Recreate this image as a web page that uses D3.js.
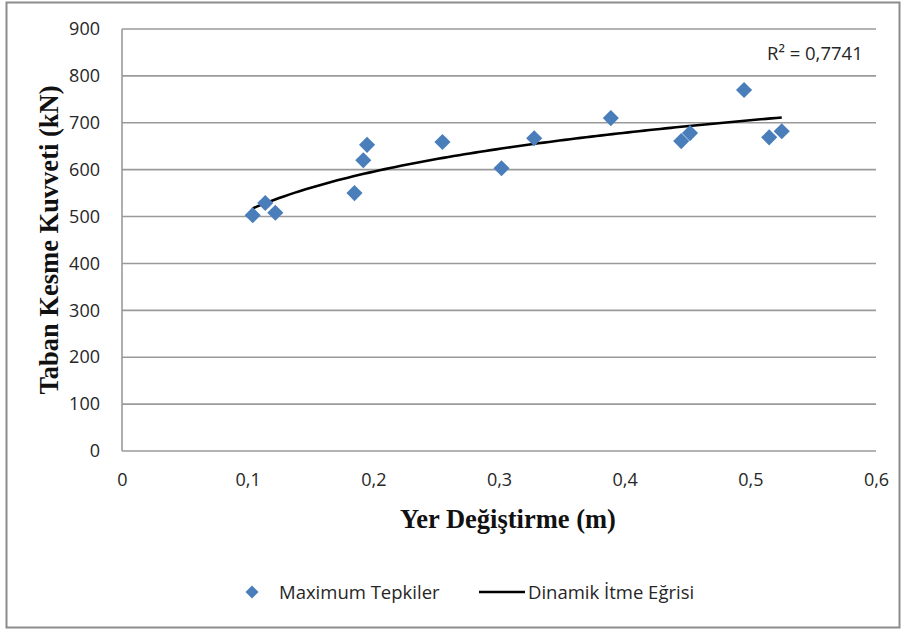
<!DOCTYPE html>
<html>
<head>
<meta charset="utf-8">
<script src="https://cdn.jsdelivr.net/npm/d3@7"></script>
<style>
  html, body { margin: 0; padding: 0; background: #fff; }
  svg { display: block; }
</style>
</head>
<body>
<svg id="chart" width="902" height="632"></svg>
<script>
// Displacement (m) and base shear (kN) of the maximum responses
const displacement = [0.104, 0.114, 0.122, 0.185, 0.192, 0.195, 0.255, 0.302, 0.328, 0.389, 0.445, 0.452, 0.495, 0.515, 0.525];
const baseShear    = [503, 529, 508, 550, 620, 653, 659, 603, 667, 710, 661, 678, 770, 669, 682];

const xTicks = [0, 0.1, 0.2, 0.3, 0.4, 0.5, 0.6];
const yTicks = [0, 100, 200, 300, 400, 500, 600, 700, 800, 900];

const seriesNames = ["Maximum Tepkiler", "Dinamik İtme Eğrisi"];
const r2Label = "R² = 0,7741";
const xTitle = "Yer Değiştirme (m)";
const yTitle = "Taban Kesme Kuvveti (kN)";

const svg = d3.select("#chart");
const plot = { left: 122, right: 876, top: 29, bottom: 451 };

const blue = "#4A7EBB";
const gridColor = "#9a9a9a";
const textColor = "#262626";
const tickFont = "'Open Sans', 'Noto Sans', sans-serif";
const titleFont = "'Liberation Serif', 'Times New Roman', serif";

// chart frame
svg.append("rect")
  .attr("x", 6.5).attr("y", 2.5)
  .attr("width", 893).attr("height", 625)
  .attr("fill", "#fff")
  .attr("stroke", "#8c8c8c")
  .attr("stroke-width", 2);

const x = d3.scaleLinear().domain([0, 0.6]).range([plot.left, plot.right]);
const y = d3.scaleLinear().domain([0, 900]).range([plot.bottom, plot.top]);

const fmt = d => String(d).replace(".", ",");

// horizontal gridlines
svg.append("g")
  .selectAll("line")
  .data(yTicks)
  .join("line")
  .attr("x1", plot.left).attr("x2", plot.right)
  .attr("y1", d => y(d)).attr("y2", d => y(d))
  .attr("stroke", gridColor)
  .attr("stroke-width", 1.6);

// vertical axis line
svg.append("line")
  .attr("x1", plot.left).attr("x2", plot.left)
  .attr("y1", plot.top).attr("y2", plot.bottom)
  .attr("stroke", gridColor)
  .attr("stroke-width", 1.6);

// y axis labels
const yAxis = d3.axisLeft(y).tickValues(yTicks).tickSize(0).tickPadding(22).tickFormat(fmt);
const gy = svg.append("g").attr("transform", `translate(${plot.left},0)`).call(yAxis);
gy.select(".domain").remove();
gy.selectAll("text")
  .attr("font-family", tickFont)
  .attr("font-size", 18)
  .attr("fill", textColor);

// x axis labels
const xAxis = d3.axisBottom(x).tickValues(xTicks).tickSize(0).tickPadding(22).tickFormat(fmt);
const gx = svg.append("g").attr("transform", `translate(0,${plot.bottom})`).call(xAxis);
gx.select(".domain").remove();
gx.selectAll("text")
  .attr("font-family", tickFont)
  .attr("font-size", 18)
  .attr("fill", textColor);

// logarithmic trend line fitted to the points: y = a ln(x) + b
const lnX = displacement.map(Math.log);
const mL = d3.mean(lnX), mY = d3.mean(baseShear);
const a = d3.sum(lnX, (l, i) => (l - mL) * (baseShear[i] - mY)) / d3.sum(lnX, l => (l - mL) ** 2);
const b = mY - a * mL;
const [xMin, xMax] = d3.extent(displacement);
const trendX = d3.range(0, 101).map(i => xMin + (xMax - xMin) * i / 100);

const line = d3.line()
  .x(d => x(d))
  .y(d => y(a * Math.log(d) + b));

svg.append("path")
  .datum(trendX)
  .attr("d", line)
  .attr("fill", "none")
  .attr("stroke", "#000")
  .attr("stroke-width", 2.6);

// data points as diamonds
const diamond = d3.symbol().type(d3.symbolSquare).size(130);
svg.append("g")
  .selectAll("path")
  .data(displacement.map((d, i) => [d, baseShear[i]]))
  .join("path")
  .attr("d", diamond)
  .attr("transform", d => `translate(${x(d[0])},${y(d[1])}) rotate(45)`)
  .attr("fill", blue);

// trend line equation label
svg.append("text")
  .attr("x", 767).attr("y", 60)
  .attr("font-family", tickFont)
  .attr("font-size", 18.5)
  .attr("fill", textColor)
  .text(r2Label);

// axis titles
svg.append("text")
  .attr("x", 508).attr("y", 528)
  .attr("text-anchor", "middle")
  .attr("font-family", titleFont)
  .attr("font-weight", "bold")
  .attr("font-size", 26.5)
  .attr("fill", "#111")
  .text(xTitle);

svg.append("text")
  .attr("transform", `translate(58,${(plot.top + plot.bottom) / 2}) rotate(-90)`)
  .attr("text-anchor", "middle")
  .attr("font-family", titleFont)
  .attr("font-weight", "bold")
  .attr("font-size", 26.5)
  .attr("fill", "#111")
  .text(yTitle);

// legend
const legend = svg.append("g");
legend.append("path")
  .attr("d", d3.symbol().type(d3.symbolSquare).size(85)())
  .attr("transform", "translate(252,592) rotate(45)")
  .attr("fill", blue);
legend.append("text")
  .attr("x", 279).attr("y", 599)
  .attr("font-family", tickFont)
  .attr("font-size", 18.5)
  .attr("fill", textColor)
  .text(seriesNames[0]);
legend.append("line")
  .attr("x1", 479).attr("x2", 525)
  .attr("y1", 592).attr("y2", 592)
  .attr("stroke", "#000")
  .attr("stroke-width", 2.6);
legend.append("text")
  .attr("x", 528).attr("y", 599)
  .attr("font-family", tickFont)
  .attr("font-size", 18.5)
  .attr("fill", textColor)
  .text(seriesNames[1]);
</script>
</body>
</html>
